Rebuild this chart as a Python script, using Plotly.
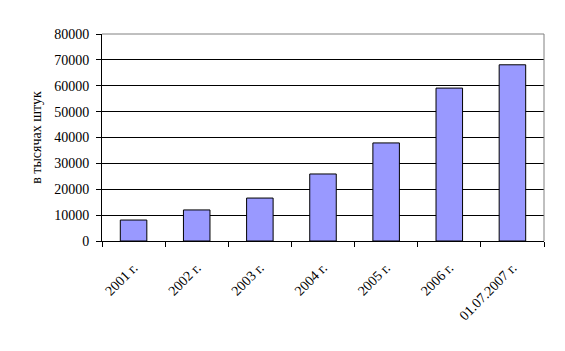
import plotly.graph_objects as go

categories = ["2001 г.", "2002 г.", "2003 г.", "2004 г.", "2005 г.", "2006 г.", "01.07.2007 г."]
values = [8100, 12000, 16600, 25900, 37900, 59100, 68100]
y_ticks = [0, 10000, 20000, 30000, 40000, 50000, 60000, 70000, 80000]
y_title = "в тысячах штук"

font = dict(family="Liberation Serif", size=14, color="black")

fig = go.Figure(go.Bar(
    x=categories, y=values,
    marker=dict(color="#9999FF", line=dict(color="black", width=1)),
    width=0.42,
))

fig.update_layout(
    width=565, height=351,
    margin=dict(l=102, r=21, t=34, b=110),
    paper_bgcolor="white", plot_bgcolor="white",
    font=font, showlegend=False,
    shapes=[
        dict(type="line", xref="paper", yref="paper", x0=0, x1=1, y0=1, y1=1,
             line=dict(color="#808080", width=1), layer="above"),
        dict(type="line", xref="paper", yref="paper", x0=1, x1=1, y0=0, y1=1,
             line=dict(color="#808080", width=1), layer="above"),
    ],
)
fig.update_xaxes(
    tickangle=-45, tickson="boundaries", ticks="outside", ticklen=5,
    tickcolor="black", showline=True, linecolor="black", linewidth=1,
    showgrid=False, tickfont=font, ticklabelstandoff=12,
)
fig.update_yaxes(
    range=[0, 80000], tickvals=y_ticks, ticktext=[str(v) for v in y_ticks],
    ticks="outside", ticklen=5, tickcolor="black",
    showline=True, linecolor="black", linewidth=1,
    showgrid=True, gridcolor="black", gridwidth=1, zeroline=False,
    tickfont=font, ticklabelstandoff=4,
    title=dict(text=y_title, font=font, standoff=9),
)

fig.write_html("out.html")
